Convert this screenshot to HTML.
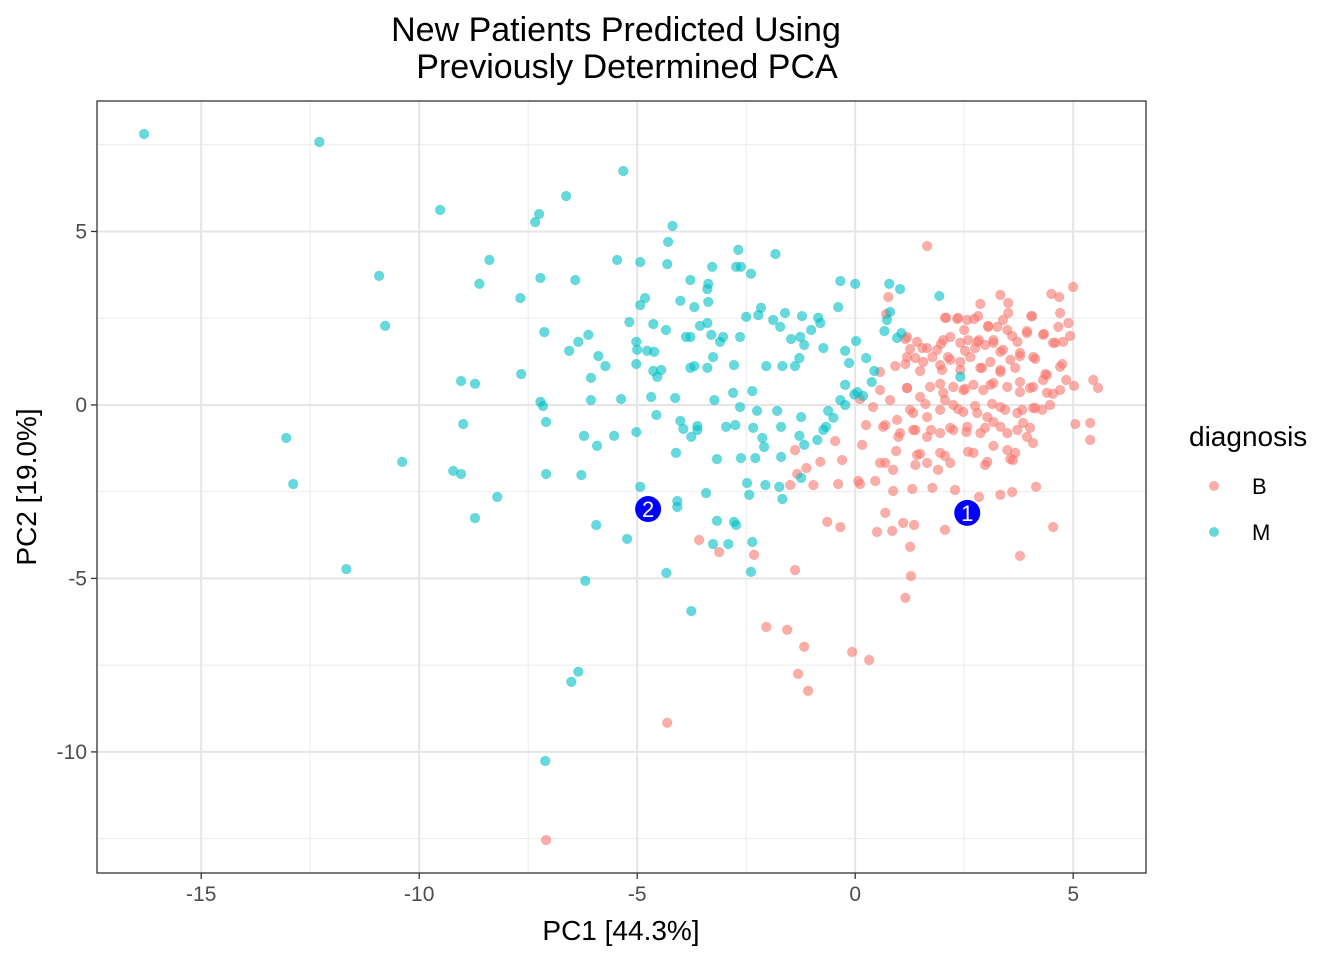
<!DOCTYPE html>
<html><head><meta charset="utf-8"><style>
html,body{margin:0;padding:0;background:#fff;}
svg{display:block;font-family:"Liberation Sans",Arial,sans-serif;}
</style></head><body>
<svg id="chart" width="1344" height="960" viewBox="0 0 1344 960" xmlns="http://www.w3.org/2000/svg">
<rect x="0" y="0" width="1344" height="960" fill="#fff"/>
<text x="616" y="41" font-size="34" text-anchor="middle" fill="#000">New Patients Predicted Using</text>
<text x="627" y="78" font-size="34" text-anchor="middle" fill="#000">Previously Determined PCA</text>
<g id="grid"></g>
<g id="points"></g>
<g id="labels"></g>
<rect x="97" y="101" width="1049" height="772" fill="none" stroke="#333" stroke-width="1.3"/>
<g id="axes"></g>
<text x="621" y="940" font-size="28" text-anchor="middle" fill="#000">PC1 [44.3%]</text>
<text transform="translate(36,487) rotate(-90)" font-size="28" text-anchor="middle" fill="#000">PC2 [19.0%]</text>
<g>
<text x="1189" y="446" font-size="28" fill="#000">diagnosis</text>
<circle cx="1214" cy="486" r="5" fill="#F8766D" fill-opacity="0.6"/>
<text x="1252" y="494" font-size="22" fill="#000">B</text>
<circle cx="1214" cy="532" r="5" fill="#00BFC4" fill-opacity="0.6"/>
<text x="1252" y="540" font-size="22" fill="#000">M</text>
</g>
</svg>
<script>
const xTicks=[-15,-10,-5,0,5];
const yTicks=[5,0,-5,-10];
const xMinor=[-12.5,-7.5,-2.5,2.5];
const yMinor=[7.5,2.5,-2.5,-7.5,-12.5];
const mX=[-16.31,-12.29,-5.32,-9.52,-6.63,-7.25,-7.34,-4.19,-4.29,-2.68,-1.83,-5.46,-4.93,-4.31,-3.28,-2.73,-2.62,-2.39,-8.39,-10.92,-8.62,-7.22,-6.42,-3.78,-3.37,-0.34,0,-7.68,-4.82,-4.93,-4.01,-3.69,-3.37,-3.39,-2.16,-2.22,-2.50,-1.61,-1.22,-0.85,-0.39,-10.78,-7.13,-5.18,-4.63,-4.34,-3.56,-3.39,-3.30,-3.78,-3.88,-3.03,-3.10,-2.64,-1.88,-1.72,-1.47,-1.26,-1.01,-0.80,-1.17,-1.28,-1.38,-0.73,-0.23,-0.14,-0.23,-6.12,-6.35,-6.56,-5.89,-5.02,-5.00,-4.77,-4.61,-4.45,-4.63,-5.02,-5.73,-6.06,-4.54,-3.69,-3.78,-3.26,-3.39,-2.78,-2.04,-1.67,-2.80,-2.36,-7.66,-9.04,-8.72,-7.22,-7.16,-7.09,-6.06,-5.37,-4.68,-4.13,-3.23,-2.64,-2.25,-1.79,-1.24,-0.62,-0.50,-0.67,-0.73,-0.87,-13.05,-8.99,-10.39,-9.22,-9.04,-12.89,-8.21,-8.72,-7.09,-6.22,-5.92,-5.53,-5.02,-4.56,-4.01,-3.94,-3.76,-3.62,-3.62,-2.96,-2.75,-2.34,-2.13,-2.09,-1.70,-1.28,-1.17,-4.11,-3.17,-2.62,-2.29,-1.70,-6.28,-4.93,-3.42,-2.48,-2.43,-2.06,-1.74,-1.67,-1.24,-4.08,-4.08,-5.94,-5.23,-3.17,-2.78,-2.73,-3.26,-2.91,-2.36,-11.67,-6.19,-4.33,-2.39,-3.76,-6.35,-6.51,-7.11,0.02,0.25,0.44,0.78,1.03,1.93,0.80,0.73,0.67,1.06,2.41,0.05,0.18,-0.34,-0.23,0.96,0.38,-0.02];
const mY=[7.81,7.58,6.74,5.62,6.02,5.50,5.27,5.16,4.70,4.47,4.35,4.18,4.12,4.06,3.98,3.98,3.98,3.78,4.18,3.72,3.49,3.66,3.60,3.60,3.49,3.57,3.49,3.08,3.08,2.88,3.00,2.82,2.97,3.34,2.80,2.59,2.54,2.65,2.56,2.51,2.82,2.28,2.10,2.39,2.33,2.16,2.28,2.36,2.02,1.96,1.96,1.96,1.82,1.96,2.45,2.25,1.90,1.96,2.16,2.36,1.73,1.35,1.12,1.64,1.56,1.21,0.58,2.02,1.82,1.56,1.41,1.82,1.59,1.56,1.53,1.01,0.98,1.18,1.12,0.78,0.81,1.12,1.07,1.38,1.07,1.15,1.12,1.12,0.35,0.40,0.89,0.69,0.61,0.09,-0.03,-0.49,0.14,0.17,0.23,0.20,0.14,-0.06,-0.17,-0.17,-0.35,-0.17,-0.37,-0.63,-0.72,-1.01,-0.95,-0.55,-1.64,-1.90,-1.99,-2.28,-2.65,-3.26,-1.99,-0.89,-1.18,-0.89,-0.78,-0.29,-0.46,-0.69,-0.92,-0.72,-0.61,-0.63,-0.58,-0.66,-0.95,-1.21,-0.63,-0.89,-1.15,-1.38,-1.56,-1.53,-1.53,-1.50,-2.02,-2.36,-2.54,-2.25,-2.59,-2.31,-2.36,-2.71,-2.10,-2.77,-2.94,-3.46,-3.86,-3.34,-3.37,-3.46,-4.01,-4.01,-3.95,-4.73,-5.07,-4.84,-4.81,-5.94,-7.69,-7.98,-10.26,1.84,1.35,0.98,3.49,3.34,3.14,2.68,2.45,2.13,2.07,0.81,0.37,0.26,0.14,0,1.93,0.66,0.3];
const bX=[1.65,5.00,4.50,4.68,3.33,2.87,3.51,0.76,0.71,2.06,2.36,2.73,3.51,4.04,4.70,4.66,4.89,4.93,4.33,3.94,3.05,3.60,3.17,2.50,2.84,2.18,1.97,1.15,1.26,1.54,1.38,1.77,2.13,2.52,2.75,3.33,3.78,4.13,4.59,4.75,0.57,0.92,1.15,1.49,1.99,2.41,2.91,3.33,3.67,4.36,4.84,5.46,5.57,5.02,4.54,4.31,4.01,3.78,3.10,2.52,1.95,1.19,0.57,0.11,0.41,0.80,1.26,1.61,2.06,2.36,2.75,3.14,3.44,3.83,4.13,4.47,5.05,5.39,5.39,0.25,0.69,0.99,1.38,1.74,2.18,2.55,2.98,3.33,3.72,4.01,-0.46,0.16,0.94,1.49,2.06,2.59,3.17,3.56,3.67,-1.38,-0.80,-0.30,0.69,1.38,1.90,2.98,-1.12,-1.33,-1.49,-0.96,-0.39,0.11,0.46,0.87,1.31,1.77,2.29,2.84,3.33,3.60,4.15,0.07,1.10,0.69,1.35,2.06,2.45,4.54,3.78,-0.64,-0.34,0.50,0.85,-3.58,-3.12,-2.32,-1.38,1.26,1.28,1.15,-2.04,-1.56,-1.17,-0.07,0.32,-1.31,-1.08,-4.31,-7.09,
2.09,2.34,2.57,2.82,3.05,3.26,3.49,3.39,4.06,1.19,1.42,1.65,1.88,2.02,2.41,2.59,2.80,2.98,3.17,3.39,3.72,3.94,4.31,4.54,4.77,1.19,1.56,1.95,2.18,2.41,2.64,2.87,3.10,3.33,3.56,3.78,4.08,4.40,4.70,1.19,1.49,1.72,2.02,2.25,2.48,2.71,2.94,3.17,3.49,3.78,4.08,4.40,4.70,0.96,1.33,1.65,1.95,2.25,2.48,2.80,3.03,3.33,3.72,4.08,4.29,0.64,1.03,1.33,1.65,1.95,2.25,2.57,2.87,3.17,3.49,3.85,3.94,0.57,0.87,1.42,1.65,1.95,2.18,2.71,3.03,3.49,3.62,4.08];
const bY=[4.58,3.40,3.20,3.11,3.17,2.91,2.94,3.11,2.62,2.51,2.51,2.48,2.65,2.56,2.65,2.25,2.36,1.99,2.05,2.13,2.25,1.99,1.79,2.16,1.87,1.96,1.76,1.90,1.61,1.64,1.35,1.38,1.38,1.56,1.64,1.53,1.41,1.33,1.79,1.18,0.95,1.12,1.18,0.98,1.01,1.01,1.07,0.95,1.07,0.89,0.72,0.72,0.49,0.55,0.32,0.72,0.49,0.66,0.58,0.46,0.61,0.49,0.43,0.17,-0.06,0.14,-0.14,0.03,0.14,-0.12,-0.03,0.03,-0.14,-0.14,-0.09,0,-0.55,-0.52,-1.01,-0.58,-0.58,-0.92,-0.72,-0.72,-0.66,-0.78,-0.66,-0.63,-0.72,-0.66,-1.04,-1.15,-1.33,-1.41,-1.47,-1.35,-1.18,-1.56,-1.38,-1.30,-1.64,-1.59,-1.67,-1.73,-1.87,-1.73,-1.82,-1.99,-2.31,-2.31,-2.28,-2.28,-2.19,-2.48,-2.42,-2.39,-2.45,-2.65,-2.59,-2.51,-2.36,-2.19,-3.40,-3.11,-3.46,-3.60,-3.31,-3.52,-4.35,-3.37,-3.52,-3.66,-3.63,-3.89,-4.24,-4.32,-4.76,-4.09,-4.93,-5.56,-6.40,-6.48,-6.97,-7.12,-7.35,-7.75,-8.24,-9.16,-12.54,
2.51,2.48,2.45,2.56,2.28,2.25,2.16,2.45,2.56,1.96,1.82,1.64,1.59,1.87,1.79,1.87,1.82,1.73,1.87,1.59,1.82,2.07,2.02,1.79,1.82,1.38,1.24,1.15,1.30,1.24,1.38,1.07,1.24,1.01,1.30,1.50,1.38,0.86,1.10,0.49,0.23,0.52,0.35,0.52,0.43,0.58,0.43,0.63,0.52,0.37,0.52,0.35,0.43,-0.43,-0.23,-0.35,-0.14,0,-0.20,-0.23,-0.35,-0.06,-0.23,-0.09,-0.14,-0.63,-0.81,-0.72,-0.92,-0.81,-0.72,-0.63,-0.81,-0.49,-0.81,-0.52,-0.92,-1.67,-1.87,-1.44,-1.67,-1.38,-1.67,-1.38,-1.64,-1.30,-1.59,-1.10];
const newLabels=["1","2"];
const newX=[2.57,-4.75];
const newY=[-3.11,-3.00];

const X0=-17.39,X1=6.67,Y0=-13.49,Y1=8.76,L=97,R=1146,T=101,B=873;
const sx=v=>L+(v-X0)/(X1-X0)*(R-L);
const sy=v=>B-(v-Y0)/(Y1-Y0)*(B-T);
const NS="http://www.w3.org/2000/svg";
function mk(tag,parent,attrs){const e=document.createElementNS(NS,tag);for(const k in attrs)e.setAttribute(k,attrs[k]);parent.appendChild(e);return e;}
const grid=document.getElementById('grid'),pts=document.getElementById('points'),axes=document.getElementById('axes'),lab=document.getElementById('labels');
xMinor.forEach(v=>{const l=mk('line',grid,{x1:sx(v),x2:sx(v),y1:T,y2:B,stroke:'#EBEBEB','stroke-width':1});

});
yMinor.forEach(v=>{const l=mk('line',grid,{x1:L,x2:R,y1:sy(v),y2:sy(v),stroke:'#EBEBEB','stroke-width':1});

});
xTicks.forEach(v=>{const l=mk('line',grid,{x1:sx(v),x2:sx(v),y1:T,y2:B,stroke:'#E5E5E5','stroke-width':2});


const t=mk('line',axes,{x1:sx(v),x2:sx(v),y1:B,y2:B+6,stroke:'#333','stroke-width':1.3});


const tx=mk('text',axes,{x:sx(v),y:B+28,'font-size':21,'text-anchor':'middle',fill:'#4D4D4D'});tx.textContent=v;

});
yTicks.forEach(v=>{const l=mk('line',grid,{x1:L,x2:R,y1:sy(v),y2:sy(v),stroke:'#E5E5E5','stroke-width':2});


const t=mk('line',axes,{x1:L-6,x2:L,y1:sy(v),y2:sy(v),stroke:'#333','stroke-width':1.3});


const tx=mk('text',axes,{x:L-10,y:sy(v)+7,'font-size':21,'text-anchor':'end',fill:'#4D4D4D'});tx.textContent=v;

});
bX.forEach((v,i)=>{const c=mk('circle',pts,{cx:sx(v),cy:sy(bY[i]),r:4.8,fill:'#F8766D','fill-opacity':0.6,stroke:'#F8766D','stroke-opacity':0.35,'stroke-width':0.8});

});
mX.forEach((v,i)=>{const c=mk('circle',pts,{cx:sx(v),cy:sy(mY[i]),r:4.8,fill:'#00BFC4','fill-opacity':0.6,stroke:'#00BFC4','stroke-opacity':0.35,'stroke-width':0.8});

});
newX.forEach((v,i)=>{const c=mk('circle',lab,{cx:sx(v),cy:sy(newY[i]),r:13,fill:'#0000FF'});


const t=mk('text',lab,{x:sx(v),y:sy(newY[i])+8,'font-size':22,'text-anchor':'middle',fill:'#fff'});t.textContent=newLabels[i];

});
</script>
</body></html>
